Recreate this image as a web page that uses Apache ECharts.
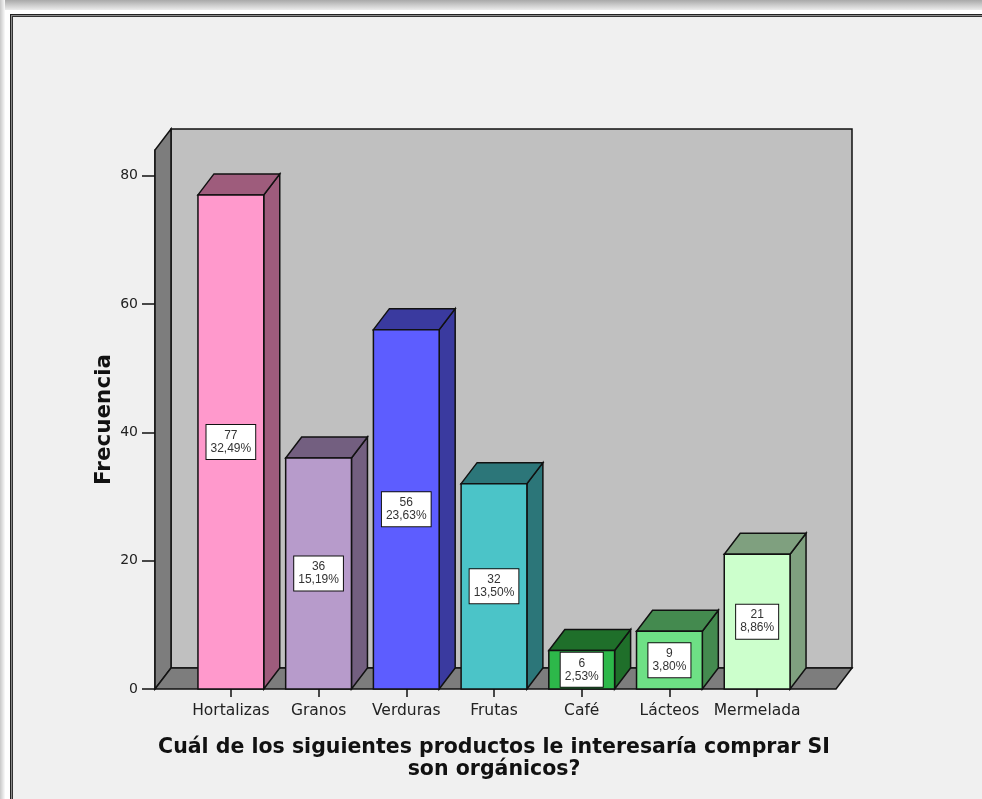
<!DOCTYPE html>
<html>
<head>
<meta charset="utf-8">
<script src="https://cdn.jsdelivr.net/npm/echarts@6/dist/echarts.min.js"></script>
<style>
  html, body { margin: 0; padding: 0; background: #fff; overflow: hidden; }
  .shade-top { position: absolute; left: 0; top: 0; width: 982px; height: 10px;
    background: linear-gradient(#a9a9a9, #ececec); }
  .shade-left { position: absolute; left: 0; top: 0; width: 5px; height: 799px;
    background: linear-gradient(to right, #c8c8c8, #fafafa); }
  .frame { position: absolute; left: 10px; top: 14px; width: 980px; height: 800px;
    background: #f0f0f0; border-left: 1px solid #222; border-top: 1px solid #222;
    box-shadow: inset 1px 1px 0 #8a8a8a, inset 2px 2px 0 #333; }
  #chart { position: absolute; left: 0; top: 0; width: 982px; height: 799px; }
</style>
</head>
<body>
<div class="shade-top"></div>
<div class="shade-left"></div>
<div class="frame"></div>
<div id="chart"></div>
<script>
var categories = ['Hortalizas', 'Granos', 'Verduras', 'Frutas', 'Café', 'Lácteos', 'Mermelada']
var counts = [77, 36, 56, 32, 6, 9, 21]
var yTicks = [0, 20, 40, 60, 80]
var yMax = 84

var frontColors = ['#ff99cc', '#b79bcb', '#5d5dff', '#4bc4c8', '#2db84a', '#6ee085', '#ccffcc']
var sideColors = ['#9e5c7c', '#735f80', '#3a3a9f', '#2c7679', '#1f6f2a', '#448a4f', '#7fa07f']

var total = counts.reduce(function(a, b) { return a + b }, 0)
var pcts = counts.map(function(c) {
  return (c / total * 100).toFixed(2).replace('.', ',') + '%'
})

// depth of the 3d look
var DX = 16
var DY = 21
var AXIS_OFFSET = 32
var RIGHT_PAD = 35

var edge = { stroke: '#111', lineWidth: 1.5 }

function poly(points, fill) {
  return { type: 'polygon', shape: { points: points }, style: Object.assign({ fill: fill }, edge) }
}

function renderFrame(params, api) {
  var cs = params.coordSys
  var base = api.coord([0, 0])[1]
  var top = api.coord([0, yMax])[1]
  var l = cs.x - AXIS_OFFSET
  var r = cs.x + cs.width + RIGHT_PAD
  return {
    type: 'group',
    children: [
      poly([[l + DX, top - DY], [r + DX, top - DY], [r + DX, base - DY], [l + DX, base - DY]], '#c0c0c0'),
      poly([[l, base], [l, top], [l + DX, top - DY], [l + DX, base - DY]], '#7d7d7d'),
      poly([[l, base], [r, base], [r + DX, base - DY], [l + DX, base - DY]], '#7d7d7d')
    ]
  }
}

function renderBar(params, api) {
  var i = api.value(0)
  var v = api.value(1)
  var top = api.coord([i, v])
  var base = api.coord([i, 0])
  var w = api.size([1, 0])[0] * 0.75
  var x0 = top[0] - w / 2
  var x1 = top[0] + w / 2
  var y0 = base[1]
  var y1 = top[1]
  return {
    type: 'group',
    children: [
      poly([[x1, y0], [x1, y1], [x1 + DX, y1 - DY], [x1 + DX, y0 - DY]], sideColors[i]),
      poly([[x0, y1], [x1, y1], [x1 + DX, y1 - DY], [x0 + DX, y1 - DY]], sideColors[i]),
      poly([[x0, y0], [x1, y0], [x1, y1], [x0, y1]], frontColors[i]),
      {
        type: 'text',
        x: top[0],
        y: (y0 + y1) / 2,
        style: {
          text: counts[i] + '\n' + pcts[i],
          align: 'center',
          verticalAlign: 'middle',
          fill: '#333',
          font: '12px "Liberation Sans", Arial, sans-serif',
          lineHeight: 13,
          backgroundColor: '#fff',
          borderColor: '#111',
          borderWidth: 1,
          padding: [4, 4]
        }
      }
    ]
  }
}

var chart = echarts.init(document.getElementById('chart'))
chart.setOption({
  backgroundColor: 'transparent',
  animation: false,
  grid: { left: 187, top: 150, width: 614, height: 539 },
  xAxis: {
    type: 'category',
    data: categories,
    axisLine: { show: false },
    axisTick: { show: true, interval: 0, alignWithLabel: true, length: 8, lineStyle: { color: '#111', width: 1.5 } },
    axisLabel: { interval: 0, color: '#222', fontSize: 15.5, fontFamily: 'DejaVu Sans', margin: 14 },
    name: 'Cuál de los siguientes productos le interesaría comprar SI\nson orgánicos?',
    nameLocation: 'middle',
    nameGap: 48,
    nameTextStyle: { color: '#111', fontSize: 20.5, fontWeight: 'bold', fontFamily: 'DejaVu Sans', lineHeight: 22 }
  },
  yAxis: {
    type: 'value',
    min: 0,
    max: yMax,
    offset: AXIS_OFFSET,
    splitLine: { show: false },
    axisLine: { show: true, lineStyle: { color: '#111', width: 1.5 } },
    axisTick: { show: true, length: 13, customValues: yTicks, lineStyle: { color: '#111', width: 1.5 } },
    axisLabel: { color: '#222', fontSize: 14, fontFamily: 'DejaVu Sans', margin: 17, customValues: yTicks },
    name: 'Frecuencia',
    nameLocation: 'middle',
    nameGap: 40,
    nameMoveOverlap: false,
    nameTextStyle: { color: '#111', fontSize: 21.5, fontWeight: 'bold', fontFamily: 'DejaVu Sans' }
  },
  series: [
    {
      type: 'custom',
      renderItem: renderFrame,
      data: [[0, 0]],
      z: 1,
      silent: true
    },
    {
      type: 'custom',
      renderItem: renderBar,
      data: categories.map(function(c, i) { return [i, counts[i]] }),
      z: 2
    }
  ]
})
</script>
</body>
</html>
